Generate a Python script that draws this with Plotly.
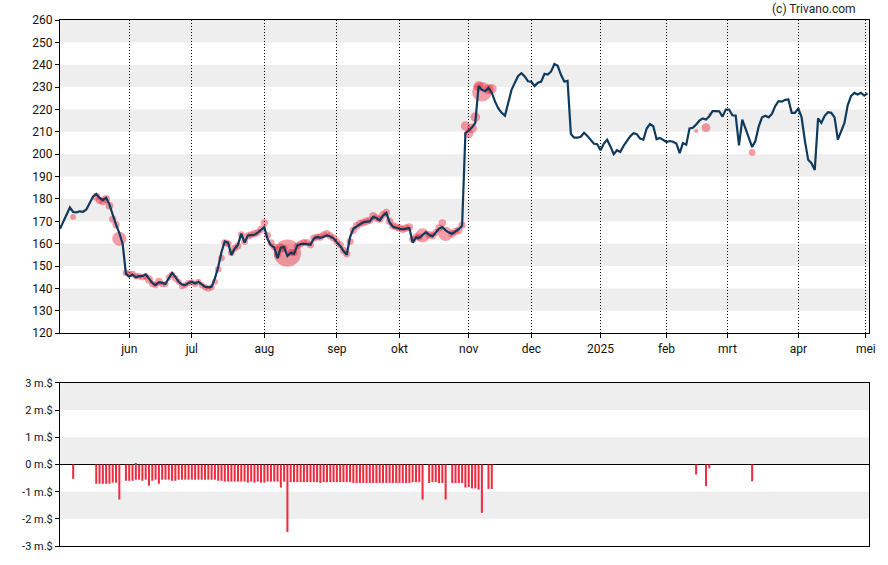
import plotly.graph_objects as go

# ---- data ----
price = [
    166.7, 170, 173.2, 176.2, 174.2, 174, 174.5, 174.3, 175.3, 178.5,
    181, 182.2, 180.5, 179.5, 180.6, 177.5, 172.5, 168.5, 164.8, 160,
    146.5, 145.3, 146.2, 145, 145.5, 145.5, 146.3, 144.2, 142.5, 141.5,
    142.8, 142.5, 142, 144.6, 147, 145.2, 143, 141.8, 141.5, 142.5,
    143, 142.2, 143, 141.8, 140.8, 140.5, 140.8, 144.5, 149.6, 156.3,
    161, 160.5, 155, 157.8, 159.6, 164.5, 160.5, 163.7, 163.7, 164,
    165, 166.3, 167.4, 162, 159.3, 158.3, 153.5, 158.3, 158.5, 154.5,
    156, 155.5, 159.3, 159.8, 160, 159.8, 159.5, 162.3, 163, 162.6,
    163.3, 163.7, 163.2, 162.4, 160.6, 159, 156.8, 155, 163, 166.7,
    167.8, 168.8, 169.6, 169.9, 170, 172, 171.5, 170.4, 172.6, 173.8,
    169.5, 167.6, 167, 166.7, 166.4, 166.7, 167, 160.5, 162.8, 162.6,
    164, 165.2, 164, 163.3, 165, 166.8, 167.5, 166, 165, 164.5,
    165.5, 166.5, 168, 209.5, 210.5, 212, 214, 230.5, 228.8, 228.2,
    229.6, 227.5, 223.5, 220.5, 218.5, 217.2, 223, 228.8, 232, 235,
    236.2, 234.8, 232.6, 232.4, 230.5, 232, 232.5, 236, 235.6, 237,
    240.3, 239.5, 235.5, 232.5, 232.8, 209, 207.4, 207.4, 207.8, 209.6,
    208.2, 206.5, 204.7, 204.5, 201.8, 204.8, 206.5, 203.5, 200, 201.8,
    201, 203.8, 205.8, 208, 209.4, 209, 207, 206.5, 211.5, 213.5,
    212.5, 206.7, 207.3, 206.3, 205.5, 205.9, 205.6, 204.8, 200.5, 205,
    204.3, 211.5, 211.8, 213.3, 215, 216, 215.5, 217, 219.3, 219.3,
    219.2, 216.8, 220, 220, 217.4, 217.3, 204, 215.5, 211, 207.3,
    203.2, 206, 212.5, 216.5, 217.2, 216.5, 218, 221.5, 223.7, 223.5,
    224.3, 224.5, 218.5, 218.5, 220.5, 216.5, 206, 197.5, 196, 193,
    216, 214, 217.2, 218.8, 218.5, 216.5, 206.5, 210, 214, 222,
    226, 227.4, 226.7, 227.5, 226.2, 227.2,
]

trade_idx = [
    4, 11, 12, 13, 14, 15, 16, 17, 18,
    20, 21, 22, 23, 24, 25, 26, 27, 28, 29,
    30, 31, 32, 33, 34, 35, 36, 37, 38, 39,
    40, 41, 42, 43, 44, 45, 46, 47, 48, 49,
    50, 51, 52, 53, 54, 55, 56, 57, 58, 59,
    60, 61, 62, 63, 64, 65, 66, 67, 68, 69,
    70, 71, 72, 73, 74, 75, 76, 77, 78, 79,
    80, 81, 82, 83, 84, 85, 86, 87, 88, 89,
    90, 91, 92, 93, 94, 95, 96, 97, 98, 99,
    100, 101, 102, 103, 104, 105, 106, 107, 108, 109,
    110, 112, 113, 114, 115, 116, 117,
    119, 120, 121, 122, 123, 124, 125, 126, 127, 128,
    130, 131, 193, 196, 197, 210,
]
trade_value = [  # m.$
    -0.53, -0.71, -0.71, -0.71, -0.71, -0.71, -0.67, -0.67, -1.29,
    -0.60, -0.60, -0.60, -0.56, -0.56, -0.60, -0.56, -0.78, -0.60, -0.56,
    -0.71, -0.56, -0.56, -0.56, -0.60, -0.60, -0.56, -0.56, -0.56, -0.56,
    -0.56, -0.56, -0.56, -0.56, -0.56, -0.56, -0.56, -0.56, -0.60, -0.60,
    -0.63, -0.63, -0.63, -0.63, -0.63, -0.63, -0.63, -0.67, -0.63, -0.67,
    -0.63, -0.67, -0.67, -0.63, -0.63, -0.63, -0.63, -0.85, -0.63, -2.48,
    -0.65, -0.65, -0.65, -0.65, -0.65, -0.65, -0.65, -0.65, -0.65, -0.68,
    -0.65, -0.65, -0.65, -0.65, -0.65, -0.65, -0.65, -0.65, -0.65, -0.68,
    -0.68, -0.68, -0.68, -0.68, -0.68, -0.68, -0.68, -0.68, -0.68, -0.68,
    -0.68, -0.68, -0.68, -0.68, -0.68, -0.68, -0.68, -0.65, -0.65, -0.65,
    -1.29, -0.68, -0.65, -0.65, -0.68, -0.68, -1.29,
    -0.68, -0.68, -0.68, -0.68, -0.85, -0.83, -0.88, -0.88, -0.93, -1.78,
    -0.90, -0.90, -0.37, -0.80, -0.14, -0.62,
]
trade_price = [
    172, 181, 179.5, 179, 180, 177, 171, 168.5, 162.2,
    147, 146.5, 146.5, 145.5, 145.5, 145, 145.5, 144, 142, 141.5,
    143, 142, 142, 145, 146, 144.5, 143, 141, 141.5, 142.5,
    142.8, 142, 143, 141.5, 140.5, 140, 140.5, 143, 148.6, 153.6,
    160.5, 160, 156, 158, 159, 164, 161, 163.5, 164, 164.5,
    165, 166.5, 169.3, 163.7, 160.4, 158.5, 155, 158, 158, 155.8,
    156, 156, 159, 160, 160.5, 160.5, 159.5, 162.5, 163, 163,
    164, 164.5, 163.5, 162.5, 161, 159.5, 157, 155.5, 161, 166,
    168, 169, 169.5, 170, 170.5, 172.5, 171.5, 171, 173, 174,
    170, 168, 167.5, 167, 166.5, 167, 167.5, 162, 163, 163,
    163.7, 164, 163.5, 165, 167, 169.3, 164.4,
    164.5, 165.5, 166, 168.4, 212.6, 209.2, 211.6, 216.6, 230.4, 227.9,
    229, 229.2, 210.4, 211.9, 218.1, 200.8,
]
buy_idx = [23]
buy_value = [0.04]

month_idx = [21, 40, 62, 84, 103, 124, 143, 164, 184, 202.5, 224, 244.5]
month_labels = ["jun", "jul", "aug", "sep", "okt", "nov", "dec", "2025",
                "feb", "mrt", "apr", "mei"]
price_band_starts = [130, 150, 170, 190, 210, 230, 250]
flow_band_starts = [-2, 0, 2]
flow_ticks = [-3, -2, -1, 0, 1, 2, 3]
flow_labels = [f"{v} m.$" for v in flow_ticks]

days = list(range(len(price)))
xr = [0, 245.45]
FONT = "Roboto"

fig = go.Figure()
fig.add_trace(go.Scatter(
    x=trade_idx, y=trade_price, mode="markers",
    marker=dict(size=[max(2.0, 11.0 * abs(v)) for v in trade_value],
                color="rgba(234,32,52,0.62)", line=dict(width=0)),
    xaxis="x", yaxis="y", hoverinfo="skip"))
fig.add_trace(go.Scatter(
    x=days, y=price, mode="lines",
    line=dict(color="#0f3a5c", width=2.2),
    xaxis="x", yaxis="y"))
fig.add_trace(go.Bar(
    x=trade_idx, y=trade_value, width=0.62,
    marker=dict(color="#ee2c40", line=dict(width=0)),
    xaxis="x2", yaxis="y2"))
fig.add_trace(go.Bar(
    x=buy_idx, y=buy_value, width=0.62,
    marker=dict(color="#2e8b3e", line=dict(width=0)),
    xaxis="x2", yaxis="y2"))

shapes = []
for b in price_band_starts:
    shapes.append(dict(type="rect", xref="x domain", yref="y", x0=0, x1=1,
                       y0=b, y1=b + 10, fillcolor="#eeeeee",
                       line=dict(width=0), layer="below"))
for b in flow_band_starts:
    shapes.append(dict(type="rect", xref="x2 domain", yref="y2", x0=0, x1=1,
                       y0=b, y1=b + 1, fillcolor="#eeeeee",
                       line=dict(width=0), layer="below"))

axis_common = dict(showline=True, mirror=True, linecolor="black", linewidth=1,
                   zeroline=False)

fig.update_layout(
    width=888, height=565, autosize=False,
    margin=dict(l=60, r=18, t=20, b=16),
    paper_bgcolor="white", plot_bgcolor="white",
    showlegend=False, barmode="relative",
    font=dict(family=FONT, size=12, color="#111"),
    shapes=shapes,
    xaxis=dict(domain=[0, 1], range=xr, anchor="y",
               tickmode="array", tickvals=month_idx, ticktext=month_labels,
               ticks="outside", ticklen=4, tickcolor="black",
               showgrid=True, gridcolor="black", gridwidth=1,
               griddash="1px,2px",
               tickfont=dict(family=FONT, size=12, color="#111"),
               **axis_common),
    yaxis=dict(domain=[0.4045, 1], range=[120, 260], anchor="x",
               tickmode="linear", tick0=120, dtick=10,
               ticks="outside", ticklen=4, tickcolor="black",
               showgrid=False,
               tickfont=dict(family=FONT, size=12, color="#111"),
               **axis_common),
    xaxis2=dict(domain=[0, 1], range=xr, anchor="y2",
                showticklabels=False, ticks="", showgrid=False,
                **axis_common),
    yaxis2=dict(domain=[0, 0.31], range=[-3, 3], anchor="x2",
                tickmode="array", tickvals=flow_ticks, ticktext=flow_labels,
                ticks="outside", ticklen=4, tickcolor="black",
                showgrid=False, showline=True, mirror=True,
                linecolor="black", linewidth=1,
                zeroline=True, zerolinecolor="black", zerolinewidth=1,
                tickfont=dict(family=FONT, size=11, color="#111")),
    annotations=[dict(text="(c) Trivano.com", xref="paper", yref="paper",
                      x=0.932, y=1.021, xanchor="center", yanchor="middle",
                      showarrow=False,
                      font=dict(family=FONT, size=12, color="#222"))],
)

fig.write_html(
    "out.html",
    config={"displayModeBar": False},
    post_script="document.body.style.margin='0';document.body.style.overflow='hidden';",
)
